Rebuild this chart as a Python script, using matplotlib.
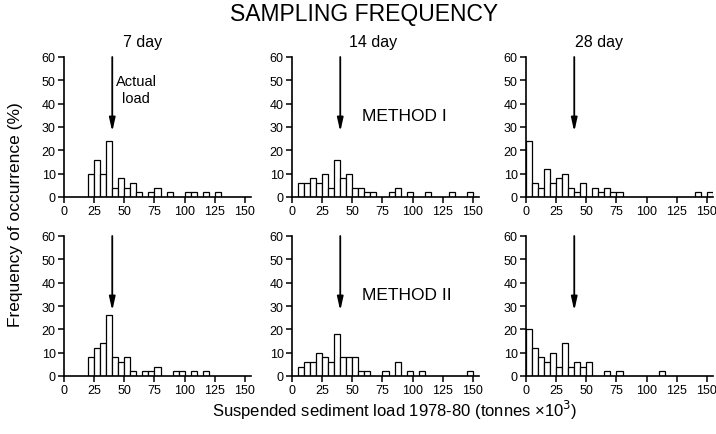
import numpy as np
import matplotlib
matplotlib.use("Agg")
import matplotlib.pyplot as plt

plt.rcParams['font.family'] = ['Liberation Sans', 'DejaVu Sans']

# histogram bins: 5 (x10^3 tonnes) wide, starting at 0
bin_starts = np.arange(0, 155, 5)
bin_width = 5
actual_load = 40

# frequency of occurrence (%) per bin
m1_7day = [0, 0, 0, 0, 10, 16, 10, 24, 4, 8, 4, 6, 2, 0, 2, 4,
           0, 2, 0, 0, 2, 2, 0, 2, 0, 2, 0, 0, 0, 0, 0]
m1_14day = [0, 6, 6, 8, 6, 10, 4, 16, 8, 10, 4, 4, 2, 2, 0, 0,
            2, 4, 0, 2, 0, 0, 2, 0, 0, 0, 2, 0, 0, 2, 0]
m1_28day = [24, 6, 4, 12, 6, 8, 10, 4, 2, 6, 0, 4, 2, 4, 2, 2,
            0, 0, 0, 0, 0, 0, 0, 0, 0, 0, 0, 0, 2, 0, 2]
m2_7day = [0, 0, 0, 0, 8, 12, 14, 26, 8, 6, 8, 2, 0, 2, 2, 4,
           0, 0, 2, 2, 0, 2, 0, 2, 0, 0, 0, 0, 0, 0, 0]
m2_14day = [0, 4, 6, 6, 10, 8, 6, 18, 8, 8, 8, 2, 2, 0, 0, 2,
            0, 6, 0, 2, 0, 2, 0, 0, 0, 0, 0, 0, 0, 2, 0]
m2_28day = [20, 12, 8, 6, 10, 4, 14, 4, 6, 4, 6, 0, 0, 2, 0, 2,
            0, 0, 0, 0, 0, 0, 2, 0, 0, 0, 0, 0, 0, 0, 0]

col_titles = ['7 day', '14 day', '28 day']
xticks = [0, 25, 50, 75, 100, 125, 150]
yticks = [0, 10, 20, 30, 40, 50, 60]

rows = [[m1_7day, m1_14day, m1_28day], [m2_7day, m2_14day, m2_28day]]

W, H = 716, 435
fig = plt.figure(figsize=(W/100, H/100), dpi=100)

lefts = [64, 292, 526]
bottoms = [198, 377]
axw = 187
axh = 140

axes = []
for r in range(2):
    for c in range(3):
        ax = fig.add_axes([lefts[c]/W, (H-bottoms[r])/H, axw/W, axh/H])
        vals = np.array(rows[r][c])
        nz = vals > 0
        ax.bar(bin_starts[nz], vals[nz], width=bin_width, align='edge',
               facecolor='white', edgecolor='black', linewidth=0.9)
        ax.set_xlim(0, 155)
        ax.set_ylim(0, 60)
        ax.set_xticks(xticks)
        ax.set_yticks(yticks)
        ax.spines['top'].set_visible(False)
        ax.spines['right'].set_visible(False)
        ax.spines['left'].set_linewidth(1.2)
        ax.spines['bottom'].set_linewidth(1.2)
        ax.tick_params(labelsize=9, length=4, width=1.1, pad=2)
        ax.annotate('', xy=(actual_load, 28), xytext=(actual_load, 60),
                    arrowprops=dict(arrowstyle='-|>,head_length=0.8,head_width=0.18',
                                    color='black', lw=1.3, shrinkA=0, shrinkB=0))
        axes.append(ax)

axes[0].text(60, 46, 'Actual\nload', ha='center', va='center', fontsize=10.5,
             linespacing=1.25)
axes[1].text(58, 35, 'METHOD I', ha='left', va='center', fontsize=12.5)
axes[4].text(58, 35, 'METHOD II', ha='left', va='center', fontsize=12.5)

fig.text(364/W, 1-15/H, 'SAMPLING FREQUENCY', ha='center', va='center', fontsize=16.5)
for c, t in enumerate(col_titles):
    fig.text([143, 373, 599][c]/W, 1-43/H, t, ha='center', va='center', fontsize=11.5)

fig.text(16/W, 1-215/H, 'Frequency of occurrence (%)', rotation=90,
         ha='center', va='center', fontsize=12.5)
fig.text(395/W, 1-410/H, 'Suspended sediment load 1978-80 (tonnes \u00d710$^3$)',
         ha='center', va='center', fontsize=12)

fig.savefig('out.png', dpi=100)
